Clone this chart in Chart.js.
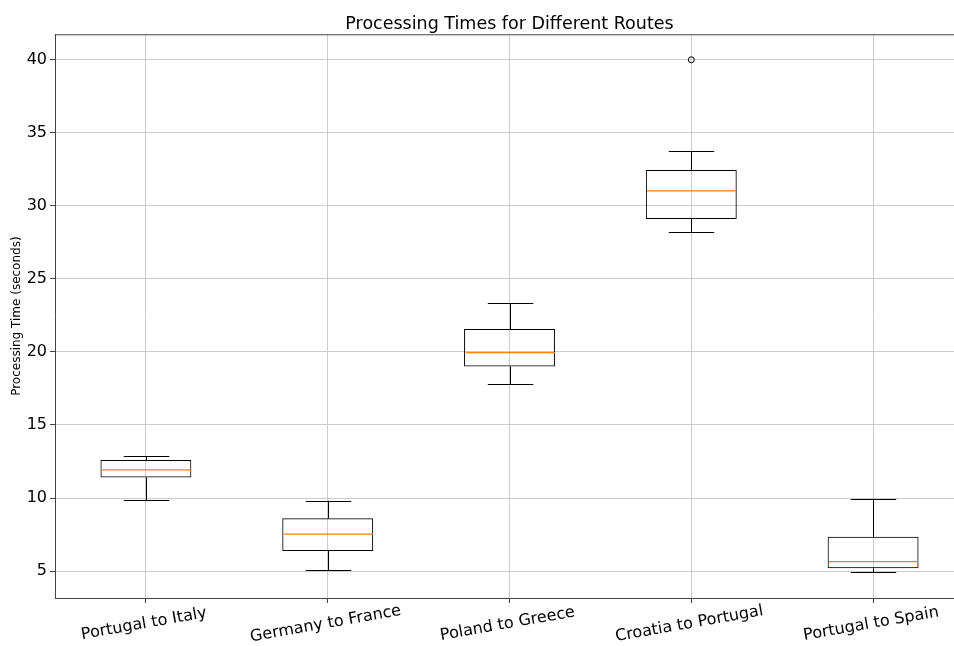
<!DOCTYPE html>
<html>
<head>
<meta charset="utf-8">
<script src="https://cdn.jsdelivr.net/npm/chart.js@4"></script>
<style>
  html, body { margin: 0; padding: 0; background: #fff; overflow: hidden; }
  /* the axes run a little past the right edge of the figure, so clip them */
  #wrap { width: 954px; height: 646px; overflow: hidden; position: relative; }
  #myChart { position: absolute; left: 0; top: 0; }
</style>
</head>
<body>
<div id="wrap"><canvas id="myChart" width="969" height="646"></canvas></div>
<script>
// route names and box plot stats
var routes = ['Portugal to Italy', 'Germany to France', 'Poland to Greece', 'Croatia to Portugal', 'Portugal to Spain'];
var whiskerLow = [9.84, 5.07, 17.79, 28.22, 4.91];
var q1 = [11.41, 6.37, 19.0, 29.11, 5.19];
var median = [11.93, 7.53, 19.95, 31.03, 5.64];
var q3 = [12.61, 8.61, 21.57, 32.46, 7.35];
var whiskerHigh = [12.86, 9.81, 23.34, 33.73, 9.95];
var outliers = [null, null, null, 40, null];
var yTicks = [5, 10, 15, 20, 25, 30, 35, 40];

var ctx = document.getElementById('myChart').getContext('2d');
var FONT = 'DejaVu Sans';

// whiskers, caps, medians, top spine and rotated x labels
const boxExtras = {
  id: 'boxExtras',
  afterDatasetsDraw(chart) {
    const x = chart.scales.x, y = chart.scales.y;
    const meta = chart.getDatasetMeta(0);
    const c = chart.ctx;
    c.save();
    c.lineWidth = 1;
    routes.forEach(function(r, i) {
      const px = Math.round(x.getPixelForValue(i)) + 0.5;
      const bw = meta.data[i].width;
      const capHalf = bw / 4;
      c.strokeStyle = '#000';
      c.beginPath();
      // lower whisker
      c.moveTo(px, y.getPixelForValue(whiskerLow[i]));
      c.lineTo(px, y.getPixelForValue(q1[i]));
      // upper whisker
      c.moveTo(px, y.getPixelForValue(q3[i]));
      c.lineTo(px, y.getPixelForValue(whiskerHigh[i]));
      // caps
      var yl = Math.round(y.getPixelForValue(whiskerLow[i])) + 0.5;
      var yh = Math.round(y.getPixelForValue(whiskerHigh[i])) + 0.5;
      c.moveTo(px - capHalf, yl); c.lineTo(px + capHalf, yl);
      c.moveTo(px - capHalf, yh); c.lineTo(px + capHalf, yh);
      c.stroke();
      // median
      var ym = y.getPixelForValue(median[i]);
      c.strokeStyle = '#ff7f0e';
      c.lineWidth = 1.2;
      c.beginPath();
      c.moveTo(px - bw / 2 + 1, ym); c.lineTo(px + bw / 2 - 1, ym);
      c.stroke();
      c.lineWidth = 1;
    });
    c.restore();
  },
  afterDraw(chart) {
    const a = chart.chartArea;
    const x = chart.scales.x;
    const c = chart.ctx;
    c.save();
    c.strokeStyle = '#444';
    c.lineWidth = 1;
    c.beginPath();
    c.moveTo(a.left, a.top + 0.5);
    c.lineTo(a.right, a.top + 0.5);
    c.stroke();
    // x tick labels, rotated 10 degrees around their centre
    c.fillStyle = '#000';
    c.font = '16px "' + FONT + '"';
    c.textAlign = 'center';
    c.textBaseline = 'middle';
    routes.forEach(function(r, i) {
      c.save();
      c.translate(x.getPixelForValue(i) - 2, a.bottom + 26);
      c.rotate(-10 * Math.PI / 180);
      c.fillText(r, 0, 0);
      c.restore();
    });
    c.restore();
  }
};

var data = {
  labels: routes,
  datasets: [{
    type: 'bar',
    data: routes.map(function(r, i) { return [q1[i], q3[i]]; }),
    backgroundColor: 'rgba(0,0,0,0)',
    borderColor: '#000',
    borderWidth: 1,
    borderSkipped: false,
    barPercentage: 0.5,
    categoryPercentage: 1.0,
    order: 2
  }, {
    type: 'line',
    data: outliers,
    showLine: false,
    pointStyle: 'circle',
    pointRadius: 3,
    pointBorderColor: '#000',
    pointBackgroundColor: 'rgba(0,0,0,0)',
    pointBorderWidth: 1,
    order: 1
  }]
};

var options = {
  responsive: false,
  animation: false,
  layout: { padding: 0 },
  plugins: {
    legend: { display: false },
    tooltip: { enabled: false },
    title: {
      display: true,
      fullSize: false, // centre over the plot area, not the canvas
      text: 'Processing Times for Different Routes',
      color: '#000',
      font: { family: FONT, size: 17.5, weight: 'normal', lineHeight: 1.1 },
      padding: { top: 15, bottom: 0 }
    }
  },
  scales: {
    x: {
      type: 'category',
      offset: true,
      grid: { color: '#cccccc', tickColor: '#444', tickLength: 5, offset: false, drawTicks: true },
      border: { color: '#444', width: 1 },
      ticks: { display: false, autoSkip: false },
      afterFit: function(s) { s.height = 48; }
    },
    y: {
      min: 3.155,
      max: 41.75,
      grid: { color: '#cccccc', tickColor: '#444', tickLength: 5 },
      border: { color: '#444', width: 1 },
      ticks: { color: '#000', padding: 3, font: { family: FONT, size: 16 } },
      afterBuildTicks: function(s) { s.ticks = yTicks.map(function(v) { return { value: v }; }); },
      title: {
        display: true,
        text: 'Processing Time (seconds)',
        color: '#000',
        font: { family: FONT, size: 12 },
        padding: { top: 10, bottom: 0 }
      },
      afterFit: function(s) { s.width = 55; }
    }
  }
};

var myChart = new Chart(ctx, {
  type: 'bar',
  data: data,
  options: options,
  plugins: [boxExtras]
});
</script>
</body>
</html>
